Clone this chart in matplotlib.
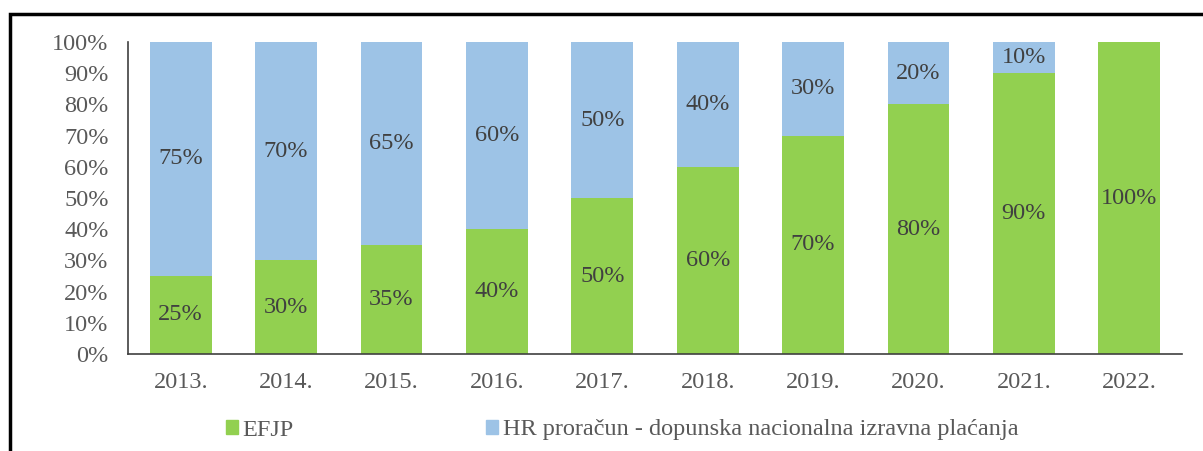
import matplotlib.pyplot as plt
from matplotlib.patches import Rectangle, Patch
import numpy as np

years = ["2013.", "2014.", "2015.", "2016.", "2017.",
         "2018.", "2019.", "2020.", "2021.", "2022."]
efjp = [25, 30, 35, 40, 50, 60, 70, 80, 90, 100]
hr_budget = [75, 70, 65, 60, 50, 40, 30, 20, 10, 0]

GREEN = "#92D050"
BLUE = "#9DC3E6"
TEXT = "#595959"
FS = 17.5

plt.rcParams["font.family"] = ["Liberation Serif", "DejaVu Serif"]

fig = plt.figure(figsize=(12.03, 4.51), dpi=100)
ax = fig.add_axes([128 / 1203, 1 - 354 / 451, (1182 - 128) / 1203, (354 - 42) / 451])

x = np.arange(len(years))
ax.bar(x, efjp, width=0.585, color=GREEN, label="EFJP")
ax.bar(x, hr_budget, width=0.585, bottom=efjp, color=BLUE,
       label="HR proračun - dopunska nacionalna izravna plaćanja")

for i in range(len(years)):
    if efjp[i] > 0:
        ax.text(x[i], efjp[i] / 2, f"{efjp[i]}%", ha="center", va="center",
                fontsize=FS, color="#404040")
    if hr_budget[i] > 0:
        ax.text(x[i], efjp[i] + hr_budget[i] / 2, f"{hr_budget[i]}%",
                ha="center", va="center", fontsize=FS, color="#404040")

ax.set_xlim(-0.5, len(years) - 0.5)
ax.set_ylim(0, 100)
ax.set_yticks(range(0, 101, 10))
ax.set_yticklabels([f"{v}%" for v in range(0, 101, 10)])
ax.set_xticks(x)
ax.set_xticklabels(years)
ax.tick_params(axis="both", length=0, labelsize=FS, colors=TEXT)
ax.tick_params(axis="y", pad=14)
ax.tick_params(axis="x", pad=13)
for side in ["top", "right"]:
    ax.spines[side].set_visible(False)
for side in ["left", "bottom"]:
    ax.spines[side].set_color("#404040")
    ax.spines[side].set_linewidth(1.2)

handles = [Patch(color=GREEN), Patch(color=BLUE)]
fig.legend(handles,
           ["EFJP", "HR proračun - dopunska nacionalna izravna plaćanja"],
           loc="center", bbox_to_anchor=(622 / 1203, 1 - 430 / 451),
           ncol=2, frameon=False, fontsize=FS, labelcolor=TEXT,
           handlelength=0.5, handleheight=0.5, handletextpad=0.2,
           columnspacing=7.9)

# outer frame like the original screenshot
fig.patches.append(Rectangle((10 / 1203, -0.1), 1.2, 1 - 14 / 451 + 0.1,
                             transform=fig.transFigure, fill=False,
                             edgecolor="black", linewidth=2.5))

fig.savefig("out.png", dpi=100)
